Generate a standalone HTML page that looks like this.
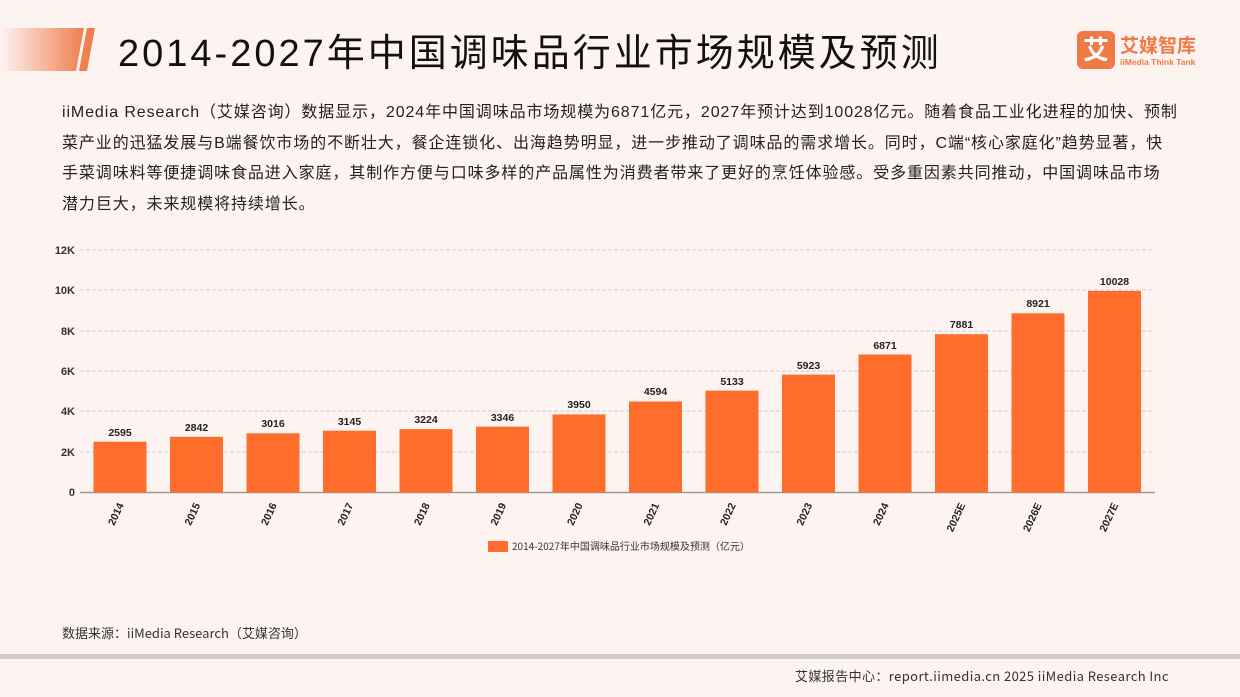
<!DOCTYPE html>
<html><head><meta charset="utf-8"><style>
body{margin:0;width:1240px;height:697px;background:#fdf4f2;overflow:hidden;position:relative;font-family:"Liberation Sans","Noto Sans CJK SC",sans-serif;}
.t{position:absolute;left:118px;top:22px;font-size:38px;color:#111;letter-spacing:3px;white-space:nowrap;}
.p{position:absolute;left:62px;top:98px;width:1180px;font-size:16px;line-height:30.5px;color:#222;letter-spacing:0.9px;white-space:nowrap;}
</style></head><body>
<svg style="position:absolute;left:0;top:0" width="1240" height="697">
<defs><linearGradient id="g" x1="0" x2="1"><stop offset="0" stop-color="#fdf4f2"/><stop offset="1" stop-color="#ef7f4e"/></linearGradient></defs>
<polygon points="0,28 84,28 76,71 0,71" fill="url(#g)"/>
<polygon points="87,28 95,28 87,71 79,71" fill="#ef7f4e"/>
<rect x="1077" y="31" width="38" height="38" rx="6" fill="#ef7a45"/>
<text x="1096" y="59" font-size="26" fill="#fff" text-anchor="middle" font-weight="bold" font-family="Noto Sans CJK SC">艾</text>
<text x="1120" y="52" font-size="19" fill="#ef7a45" font-weight="bold" font-family="Noto Sans CJK SC">艾媒智库</text>
<text x="1120" y="65" font-size="8.5" fill="#ef7a45" font-weight="bold">iiMedia Think Tank</text>
<g stroke="#ccc" stroke-dasharray="4,2" stroke-width="1">
<line x1="80" x2="1155" y1="250" y2="250"/><line x1="80" x2="1155" y1="290" y2="290"/><line x1="80" x2="1155" y1="331" y2="331"/><line x1="80" x2="1155" y1="371" y2="371"/><line x1="80" x2="1155" y1="411" y2="411"/><line x1="80" x2="1155" y1="452" y2="452"/>
</g>
<g font-size="11" font-weight="bold" fill="#333" text-anchor="end">
<text x="75" y="254">12K</text><text x="75" y="294">10K</text><text x="75" y="335">8K</text><text x="75" y="375">6K</text><text x="75" y="415">4K</text><text x="75" y="456">2K</text><text x="75" y="496">0</text>
</g>
<line x1="80" x2="1155" y1="492.5" y2="492.5" stroke="#999" stroke-width="1.5"/>
<rect x="488" y="541" width="20" height="11" fill="#fe6d2c"/>
<text x="512" y="550" font-size="10" fill="#333" font-family="Noto Sans CJK SC">2014-2027年中国调味品行业市场规模及预测（亿元）</text>
<rect x="0" y="654" width="1240" height="5" fill="#ccc"/>
<text x="62" y="638" font-size="13" fill="#333" font-family="Noto Sans CJK SC">数据来源：iiMedia Research（艾媒咨询）</text>
<text x="795" y="681" font-size="13" fill="#333" font-family="Noto Sans CJK SC" letter-spacing="0.4">艾媒报告中心：report.iimedia.cn  2025 iiMedia Research Inc</text>
<g font-size="10.5" font-weight="bold" fill="#222" text-anchor="middle">
<rect x="93.5" y="441.7" width="53" height="50.8" fill="#fe6d2c"/><text x="120" y="436">2595</text><text transform="translate(124,505) rotate(-65)" text-anchor="end">2014</text>
<rect x="170" y="436.8" width="53" height="55.7" fill="#fe6d2c"/><text x="196.5" y="431">2842</text><text transform="translate(200.5,505) rotate(-65)" text-anchor="end">2015</text>
<rect x="246.5" y="433.3" width="53" height="59.2" fill="#fe6d2c"/><text x="273" y="427">3016</text><text transform="translate(277,505) rotate(-65)" text-anchor="end">2016</text>
<rect x="323" y="430.7" width="53" height="61.8" fill="#fe6d2c"/><text x="349.5" y="425">3145</text><text transform="translate(353.5,505) rotate(-65)" text-anchor="end">2017</text>
<rect x="399.5" y="429.1" width="53" height="63.4" fill="#fe6d2c"/><text x="426" y="423">3224</text><text transform="translate(430,505) rotate(-65)" text-anchor="end">2018</text>
<rect x="476" y="426.6" width="53" height="65.9" fill="#fe6d2c"/><text x="502.5" y="421">3346</text><text transform="translate(506.5,505) rotate(-65)" text-anchor="end">2019</text>
<rect x="552.5" y="414.4" width="53" height="78.1" fill="#fe6d2c"/><text x="579" y="408">3950</text><text transform="translate(583,505) rotate(-65)" text-anchor="end">2020</text>
<rect x="629" y="401.5" width="53" height="91" fill="#fe6d2c"/><text x="655.5" y="395">4594</text><text transform="translate(659.5,505) rotate(-65)" text-anchor="end">2021</text>
<rect x="705.5" y="390.6" width="53" height="101.9" fill="#fe6d2c"/><text x="732" y="385">5133</text><text transform="translate(736,505) rotate(-65)" text-anchor="end">2022</text>
<rect x="782" y="374.6" width="53" height="117.9" fill="#fe6d2c"/><text x="808.5" y="369">5923</text><text transform="translate(812.5,505) rotate(-65)" text-anchor="end">2023</text>
<rect x="858.5" y="354.5" width="53" height="138" fill="#fe6d2c"/><text x="885" y="349">6871</text><text transform="translate(889,505) rotate(-65)" text-anchor="end">2024</text>
<rect x="935" y="334.2" width="53" height="158.3" fill="#fe6d2c"/><text x="961.5" y="328">7881</text><text transform="translate(965.5,505) rotate(-65)" text-anchor="end">2025E</text>
<rect x="1011.5" y="313.3" width="53" height="179.2" fill="#fe6d2c"/><text x="1038" y="307">8921</text><text transform="translate(1042,505) rotate(-65)" text-anchor="end">2026E</text>
<rect x="1088" y="290.9" width="53" height="201.6" fill="#fe6d2c"/><text x="1114.5" y="285">10028</text><text transform="translate(1118.5,505) rotate(-65)" text-anchor="end">2027E</text>
</g>
</svg>
<div class="t">2014-2027年中国调味品行业市场规模及预测</div>
<div class="p">iiMedia Research（艾媒咨询）数据显示，2024年中国调味品市场规模为6871亿元，2027年预计达到10028亿元。随着食品工业化进程的加快、预制<br>菜产业的迅猛发展与B端餐饮市场的不断壮大，餐企连锁化、出海趋势明显，进一步推动了调味品的需求增长。同时，C端“核心家庭化”趋势显著，快<br>手菜调味料等便捷调味食品进入家庭，其制作方便与口味多样的产品属性为消费者带来了更好的烹饪体验感。受多重因素共同推动，中国调味品市场<br>潜力巨大，未来规模将持续增长。</div>
</body></html>
